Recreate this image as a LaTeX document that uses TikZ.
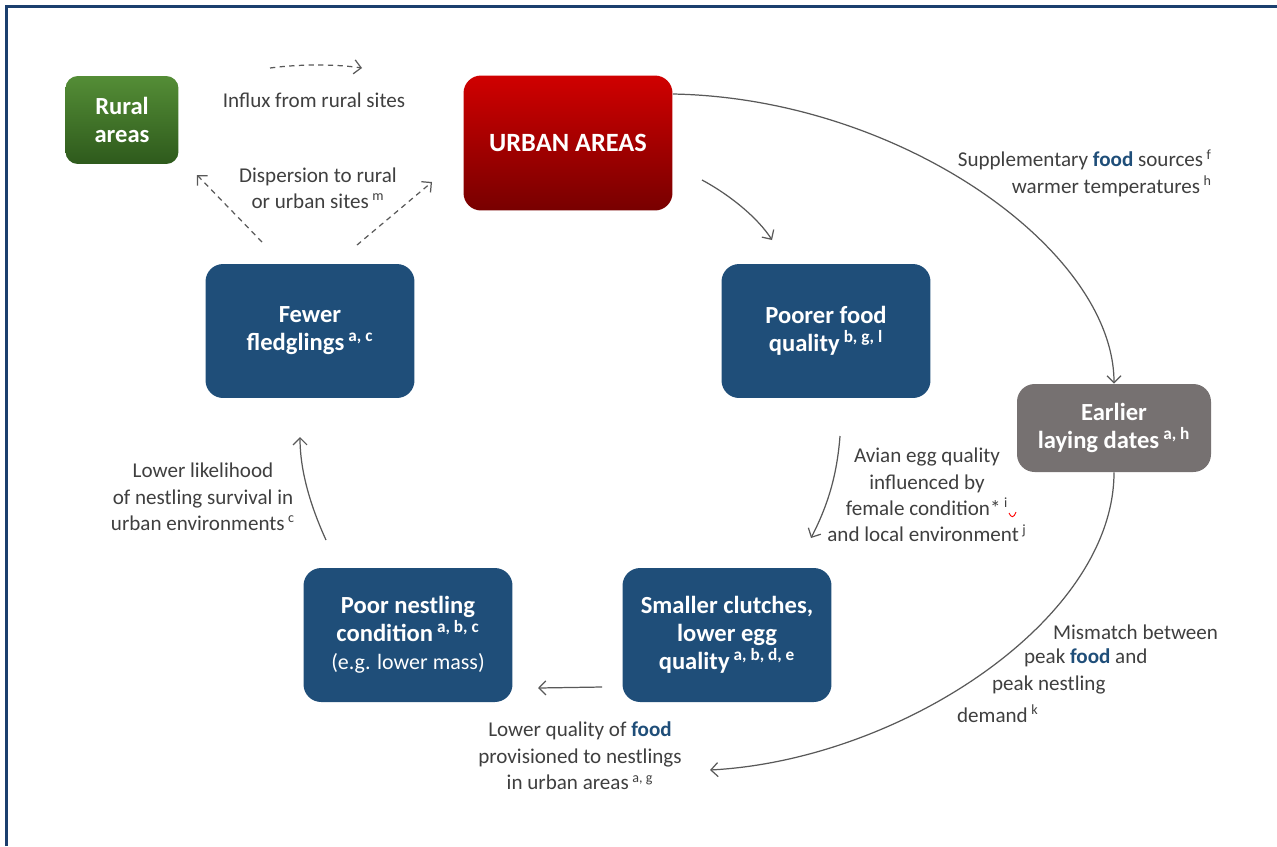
\documentclass[tikz,border=0pt]{standalone}
\usepackage{fontspec}
\setmainfont{Carlito}
\usetikzlibrary{arrows.meta}

\definecolor{boxblue}{HTML}{1F4E79}
\definecolor{frameblue}{HTML}{1B3F6E}
\definecolor{ruraltop}{HTML}{548D36}
\definecolor{ruralbot}{HTML}{2E5A1C}
\definecolor{urbantop}{HTML}{D00000}
\definecolor{urbanbot}{HTML}{780000}
\definecolor{laygrey}{HTML}{767171}
\definecolor{labelgrey}{HTML}{3F3F3F}
\definecolor{linegrey}{HTML}{595959}

\newcommand{\food}{\textcolor{boxblue}{\textbf{food}}}
\newcommand{\supref}[1]{\,\textsuperscript{#1}}

\begin{document}
\begin{tikzpicture}[x=0.02cm, y=-0.02cm,
  stage/.style={rounded corners=10pt, text=white, align=center, inner sep=2pt,
    font=\fontsize{14}{16}\selectfont\bfseries,
    minimum width=4.18cm, minimum height=2.68cm},
  cyclebox/.style={stage, fill=boxblue},
  lbl/.style={text=labelgrey, align=center, inner sep=1pt,
    font=\fontsize{12}{15}\selectfont},
  link/.style={draw=linegrey, line width=0.7pt, -{Straight Barb[length=4pt,width=8pt]}},
  spread/.style={link, dash pattern=on 3pt off 2.5pt}]
  \useasboundingbox (0,0) rectangle (1277,846);
  \draw[frameblue, line width=1.5pt] (6.5,846) -- (6.5,6.5) -- (1277,6.5);

  % les cases
  \node[stage, rounded corners=7pt, minimum width=2.26cm, minimum height=1.76cm,
    top color=ruraltop, bottom color=ruralbot] (rural) at (122,120) {Rural\\areas};
  \node[stage, minimum height=2.7cm, font=\fontsize{15}{17}\selectfont\bfseries,
    top color=urbantop, bottom color=urbanbot] (urban) at (568,143) {URBAN AREAS};
  \node[cyclebox] (fewer) at (310,331) {Fewer\\fledglings\supref{a, c}};
  \node[cyclebox] (poorer) at (826,331) {Poorer food\\quality\supref{b, g, l}};
  \node[stage, fill=laygrey, minimum width=3.88cm, minimum height=1.76cm] (earlier)
    at (1114,428) {Earlier\\laying dates\supref{a, h}};
  \node[cyclebox] (nestling) at (408,635)
    {Poor nestling\\condition\supref{a, b, c}\\{\mdseries\fontsize{12.5}{15}\selectfont (e.g. lower mass)}};
  \node[cyclebox] (clutch) at (727,635) {Smaller clutches,\\lower egg\\quality\supref{a, b, d, e}};

  % les textes
  \node[lbl] (influx) at (314,100) {Influx from rural sites};
  \node[lbl] (dispersal) at (318,188) {Dispersion to rural\\or urban sites\supref{m}};
  \node[lbl, align=right, anchor=east] (supply) at (1214,173)
    {Supplementary \food{} sources\supref{f}\\warmer temperatures\supref{h}};
  \node[lbl] (eggq) at (927,495)
    {Avian egg quality\\influenced by\\female condition*\supref{i}\\and local environment\supref{j}};
  \node[lbl, anchor=west] (mis1) at (1051,632) {Mismatch between};
  \node[lbl, anchor=west] (mis2) at (1022,658) {peak \food{} and};
  \node[lbl, anchor=west] (mis3) at (990,685) {peak nestling};
  \node[lbl, anchor=west] (mis4) at (955,714) {demand\supref{k}};
  \node[lbl] (provis) at (580,756)
    {Lower quality of \food\\provisioned to nestlings\\in urban areas\supref{a, g}};
  \node[lbl] (survival) at (203,497)
    {Lower likelihood\\of nestling survival in\\urban environments\supref{c}};
  % petit soulignement rouge sous le i
  \draw[red, line width=0.5pt] (1009,513) .. controls (1011,518) and (1014,518) .. (1016,512);

  % les bouts libres des fleches
  \coordinate (u2pA) at (702,180);
  \coordinate (u2pB) at (772,240);
  \coordinate (lateEnd) at (710,770);
  \coordinate (pcA) at (840,436);
  \coordinate (pcB) at (811,538);
  \coordinate (cnA) at (602,687);
  \coordinate (cnB) at (538,688);
  \coordinate (nfA) at (326,540);
  \coordinate (nfB) at (300,437);
  \coordinate (inA) at (270,68);
  \coordinate (inB) at (362,68);
  \coordinate (dlA) at (262,242);
  \coordinate (dlB) at (197,175);
  \coordinate (drA) at (357,245);
  \coordinate (drB) at (432,182);

  % le cycle
  \draw[link] (u2pA) .. controls (730,195) and (758,218) .. (u2pB);
  \draw[link] ([yshift=0.98cm]urban.east) .. controls (900,98) and (1114,250) .. (earlier.north);
  \draw[link] (earlier.south) .. controls (1114,620) and (900,760) .. (lateEnd);
  \draw[link] (pcA) .. controls (837,475) and (828,505) .. (pcB);
  \draw[link] (cnA) -- (cnB);
  \draw[link] (nfA) .. controls (310,505) and (300,470) .. (nfB);

  % deplacements
  \draw[spread] (inA) .. controls (300,64) and (335,64) .. (inB);
  \draw[spread] (dlA) -- (dlB);
  \draw[spread] (drA) -- (drB);
\end{tikzpicture}
\end{document}
